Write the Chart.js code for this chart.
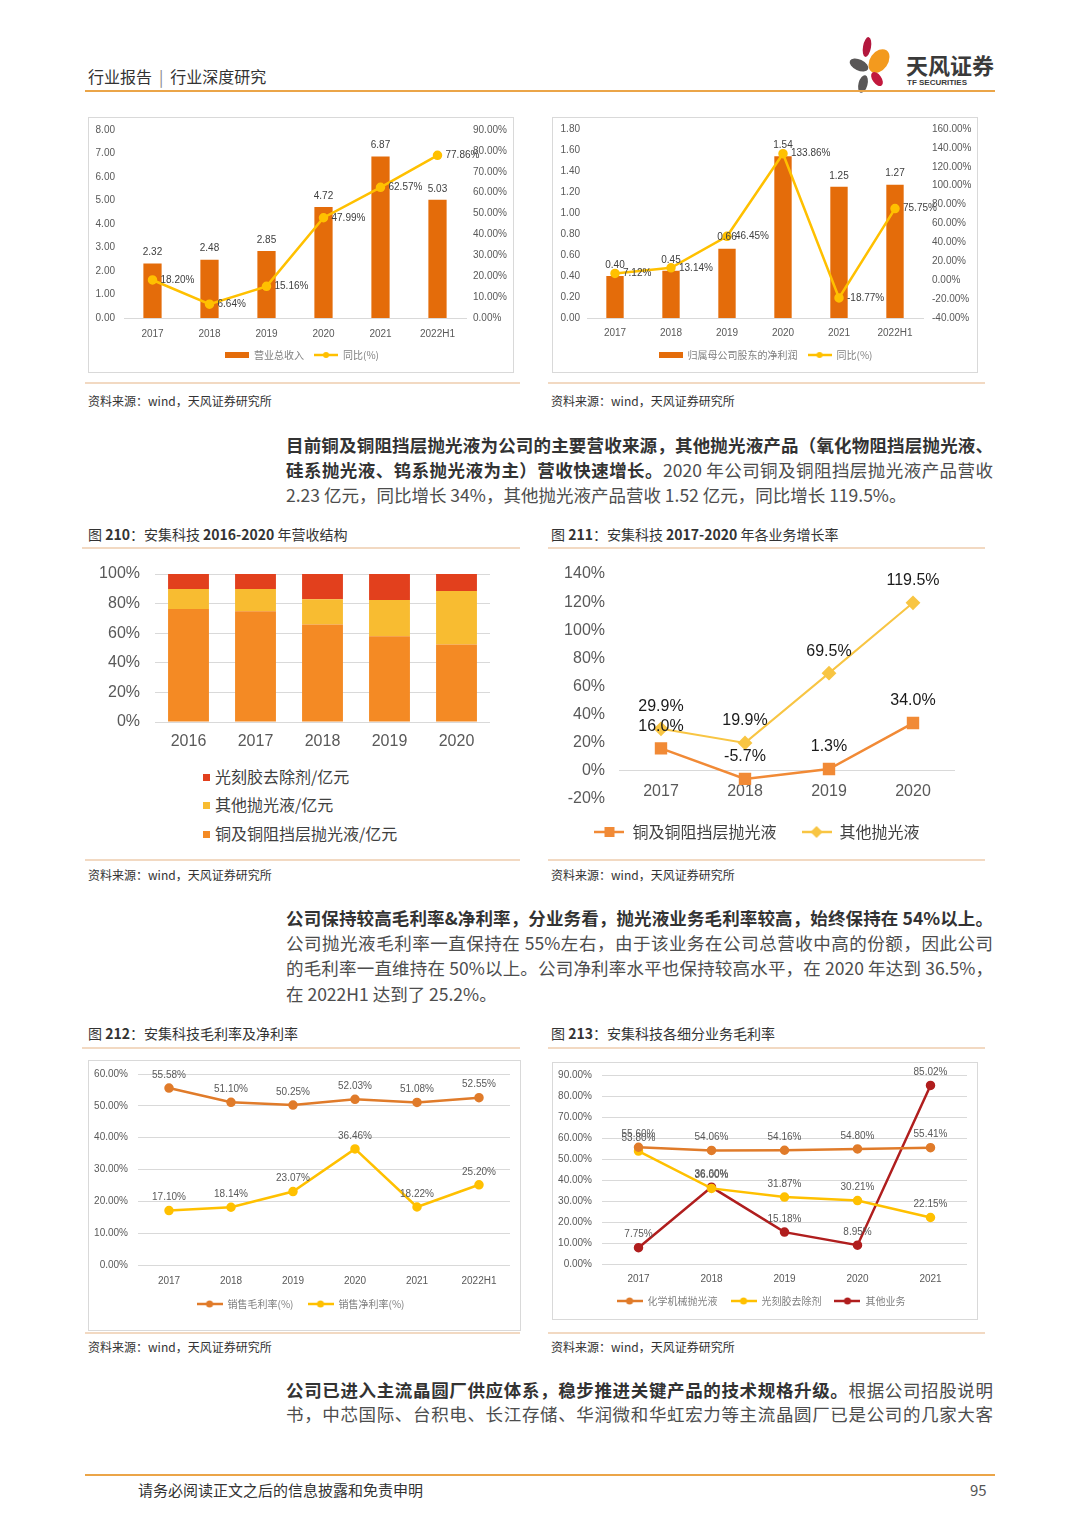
<!DOCTYPE html>
<html lang="zh-CN">
<head>
<meta charset="utf-8">
<title>安集科技 财务图表</title>
<script src="https://cdn.jsdelivr.net/npm/chart.js@4.4.0/dist/chart.umd.min.js"></script>
<style>
  body { margin: 0; background: #fff; }
  #page { position: relative; width: 1080px; height: 1527px; background: #fff; overflow: hidden;
          font-family: "Noto Sans CJK SC", sans-serif; color: #333; }
  .abs { position: absolute; white-space: nowrap; }
  .rule { position: absolute; height: 2px; background: #F2D9C2; }
  .src { position: absolute; font-size: 12px; line-height: 16px; color: #333; }
  .ftitle { position: absolute; font-size: 14px; line-height: 20px; color: #333; }
  .ftitle b { font-weight: 700; }
  .ln { position: absolute; left: 286px; width: 707px; font-size: 17.5px; line-height: 25px;
        color: #4d4d4d; white-space: nowrap; text-align: justify; text-align-last: justify; }
  .ln.last { text-align: left; text-align-last: left; }
  .ln b { color: #333; font-weight: 700; }
  .box { position: absolute; border: 1px solid #D9D9D9; box-sizing: border-box; }
  canvas { position: absolute; }
  .lg3 { position: absolute; left: 203px; font-size: 16px; line-height: 20px; color: #404040; }
  .lg3 i { display: inline-block; width: 7px; height: 7px; margin-right: 5px; vertical-align: 2px; }
</style>
</head>
<body>
<div id="page">

  <!-- header -->
  <div class="abs" style="left:88px; top:66px; font-size:16px; line-height:20px; color:#333;">行业报告<span style="margin:0 7px; color:#888;">|</span>行业深度研究</div>
  <svg class="abs" style="left:845px; top:34px;" width="62" height="62" viewBox="0 0 62 62">
    <ellipse cx="22" cy="13" rx="4" ry="10" fill="#B3173D" transform="rotate(10 22 13)"/>
    <ellipse cx="34" cy="27" rx="9" ry="13" fill="#F39A1E" transform="rotate(35 34 27)"/>
    <ellipse cx="14" cy="31" rx="5.5" ry="10" fill="#595757" transform="rotate(-65 14 31)"/>
    <ellipse cx="32" cy="45" rx="4.5" ry="8" fill="#C2183D" transform="rotate(-35 32 45)"/>
    <ellipse cx="18" cy="50" rx="4.5" ry="9" fill="#595757" transform="rotate(15 18 50)"/>
  </svg>
  <div class="abs" style="left:906px; top:50px; font-size:22px; line-height:28px; font-weight:700; color:#3a3a3a;">天风证券</div>
  <div class="abs" style="left:907px; top:78px; font-size:8px; line-height:10px; font-weight:700; color:#3a3a3a; font-family:'Liberation Sans',sans-serif;">TF SECURITIES</div>
  <div class="rule" style="left:85px; top:90px; width:910px; background:#EBA548;"></div>

  <!-- charts 1 and 2 -->
  <div class="box" style="left:88px; top:117px; width:426px; height:256px;"></div>
  <canvas id="c1" width="423" height="253" style="left:89px; top:118px;"></canvas>
  <div class="box" style="left:552px; top:117px; width:426px; height:256px;"></div>
  <canvas id="c2" width="423" height="253" style="left:553px; top:118px;"></canvas>
  <div class="rule" style="left:85px; top:382px; width:435px;"></div>
  <div class="rule" style="left:548px; top:382px; width:437px;"></div>
  <div class="src" style="left:88px; top:393px;">资料来源：wind，天风证券研究所</div>
  <div class="src" style="left:551px; top:393px;">资料来源：wind，天风证券研究所</div>

  <div class="ln" style="top:432px;"><b>目前铜及铜阻挡层抛光液为公司的主要营收来源，其他抛光液产品（氧化物阻挡层抛光液、</b></div>
  <div class="ln" style="top:457px;"><b>硅系抛光液、钨系抛光液为主）营收快速增长。</b>2020 年公司铜及铜阻挡层抛光液产品营收</div>
  <div class="ln last" style="top:482px;">2.23 亿元，同比增长 34%，其他抛光液产品营收 1.52 亿元，同比增长 119.5%。</div>

  <!-- charts 3 and 4 -->
  <div class="ftitle" style="left:88px; top:524px;">图 <b>210</b>：安集科技 <b>2016-2020</b> 年营收结构</div>
  <div class="ftitle" style="left:551px; top:524px;">图 <b>211</b>：安集科技 <b>2017-2020</b> 年各业务增长率</div>
  <div class="rule" style="left:82px; top:547px; width:438px;"></div>
  <div class="rule" style="left:548px; top:547px; width:437px;"></div>
  <canvas id="c3" width="432" height="200" style="left:88px; top:559px;"></canvas>
  <div id="lg3"></div>
  <canvas id="c4" width="435" height="290" style="left:550px; top:560px;"></canvas>
  <div class="rule" style="left:85px; top:859px; width:435px;"></div>
  <div class="rule" style="left:548px; top:859px; width:437px;"></div>
  <div class="src" style="left:88px; top:867px;">资料来源：wind，天风证券研究所</div>
  <div class="src" style="left:551px; top:867px;">资料来源：wind，天风证券研究所</div>

  <div class="ln" style="top:905px;"><b>公司保持较高毛利率&amp;净利率，分业务看，抛光液业务毛利率较高，始终保持在 54%以上。</b></div>
  <div class="ln" style="top:930px;">公司抛光液毛利率一直保持在 55%左右，由于该业务在公司总营收中高的份额，因此公司</div>
  <div class="ln" style="top:955px;">的毛利率一直维持在 50%以上。公司净利率水平也保持较高水平，在 2020 年达到 36.5%，</div>
  <div class="ln last" style="top:981px;">在 2022H1 达到了 25.2%。</div>

  <!-- charts 5 and 6 -->
  <div class="ftitle" style="left:88px; top:1023px;">图 <b>212</b>：安集科技毛利率及净利率</div>
  <div class="ftitle" style="left:551px; top:1023px;">图 <b>213</b>：安集科技各细分业务毛利率</div>
  <div class="rule" style="left:82px; top:1047px; width:438px;"></div>
  <div class="rule" style="left:548px; top:1047px; width:437px;"></div>
  <div class="box" style="left:88px; top:1060px; width:433px; height:271px;"></div>
  <canvas id="c5" width="430" height="268" style="left:89px; top:1061px;"></canvas>
  <div class="box" style="left:552px; top:1062px; width:426px; height:258px;"></div>
  <canvas id="c6" width="424" height="256" style="left:553px; top:1063px;"></canvas>
  <div class="rule" style="left:85px; top:1332px; width:435px;"></div>
  <div class="rule" style="left:548px; top:1332px; width:437px;"></div>
  <div class="src" style="left:88px; top:1339px;">资料来源：wind，天风证券研究所</div>
  <div class="src" style="left:551px; top:1339px;">资料来源：wind，天风证券研究所</div>

  <div class="ln" style="top:1377px;"><b>公司已进入主流晶圆厂供应体系，稳步推进关键产品的技术规格升级。</b>根据公司招股说明</div>
  <div class="ln" style="top:1401px;">书，中芯国际、台积电、长江存储、华润微和华虹宏力等主流晶圆厂已是公司的几家大客</div>

  <!-- footer -->
  <div class="rule" style="left:85px; top:1474px; width:910px; background:#EBA548;"></div>
  <div class="abs" style="left:138px; top:1480px; font-size:15px; line-height:20px; color:#333;">请务必阅读正文之后的信息披露和免责申明</div>
  <div class="abs" style="left:970px; top:1480px; font-size:15px; line-height:20px; color:#555;">95</div>
</div>

<script>
// ---- data ----
const years6 = ['2017', '2018', '2019', '2020', '2021', '2022H1'];
const revenue = [2.32, 2.48, 2.85, 4.72, 6.87, 5.03];
const revenueYoy = [18.20, 6.64, 15.16, 47.99, 62.57, 77.86];
const netProfit = [0.40, 0.45, 0.66, 1.54, 1.25, 1.27];
const netProfitYoy = [7.12, 13.14, 46.45, 133.86, -18.77, 75.75];

const structYears = ['2016', '2017', '2018', '2019', '2020'];
const copperShare = [76.4, 74.8, 65.8, 57.9, 52.3];
const otherShare = [13.5, 15.1, 17.1, 24.5, 36.2];
const resistShare = [10.1, 10.1, 17.1, 17.6, 11.5];

const growthYears = ['2017', '2018', '2019', '2020'];
const copperGrowth = [16.0, -5.7, 1.3, 34.0];
const otherGrowth = [29.9, 19.9, 69.5, 119.5];

const grossMargin = [55.58, 51.10, 50.25, 52.03, 51.08, 52.55];
const netMargin = [17.10, 18.14, 23.07, 36.46, 18.22, 25.20];

const segYears = ['2017', '2018', '2019', '2020', '2021'];
const cmpMargin = [55.60, 54.06, 54.16, 54.80, 55.41];
const resistMargin = [53.80, 36.00, 31.87, 30.21, 22.15];
const otherBizMargin = [7.75, 36.60, 15.18, 8.95, 85.02];

// ---- styles ----
const SANS = '"Liberation Sans", "Noto Sans CJK SC", sans-serif';
const CJK = '"Noto Sans CJK SC", sans-serif';
const ORANGE_BAR = '#E46C0A';
const YELLOW = '#FFC000';
const ORANGE_LINE = '#E07B2A';
const DARK_RED = '#B01E1E';
const S_COPPER = '#F48A24', S_OTHER = '#F8BC31', S_RESIST = '#E2401D';
const G_COPPER = '#F18A36', G_OTHER = '#F8C543';
const GRID = '#D9D9D9';

Chart.defaults.font.family = SANS;
Chart.defaults.animation = false;

// value labels drawn next to bars / points
const valueLabels = {
  id: 'valueLabels',
  afterDatasetsDraw(chart, args, opts) {
    const ctx = chart.ctx;
    chart.data.datasets.forEach((ds, i) => {
      if (!ds.labelPos) return;
      const meta = chart.getDatasetMeta(i);
      ctx.save();
      ctx.font = opts.font;
      ctx.fillStyle = opts.color;
      meta.data.forEach((el, j) => {
        const txt = ds.labelFmt(ds.data[j]);
        if (ds.labelPos === 'right') {
          ctx.textAlign = 'left';
          ctx.textBaseline = 'middle';
          ctx.fillText(txt, el.x + (ds.labelGap || 8), el.y);
        } else {
          ctx.textAlign = 'center';
          ctx.textBaseline = 'bottom';
          ctx.fillText(txt, el.x, el.y - (ds.labelGap || 6));
        }
      });
      ctx.restore();
    });
  }
};

// small legend swatches (line with marker, or bar block)
function makeSwatch(w, h, color, kind, size) {
  const c = document.createElement('canvas');
  c.width = w; c.height = h;
  const g = c.getContext('2d');
  g.fillStyle = color; g.strokeStyle = color;
  const cy = h / 2, cx = w / 2;
  if (kind === 'bar') {
    g.fillRect(0, cy - size / 2, w, size);
    return c;
  }
  g.lineWidth = 2.5;
  g.beginPath(); g.moveTo(0, cy); g.lineTo(w, cy); g.stroke();
  g.beginPath();
  if (kind === 'circle') g.arc(cx, cy, size, 0, Math.PI * 2);
  else if (kind === 'square') g.rect(cx - size, cy - size, size * 2, size * 2);
  else if (kind === 'diamond') { g.moveTo(cx, cy - size); g.lineTo(cx + size, cy); g.lineTo(cx, cy + size); g.lineTo(cx - size, cy); g.closePath(); }
  g.fill();
  return c;
}

function legendOpts(items, w, size, color, pad) {
  return {
    position: 'bottom',
    labels: {
      usePointStyle: true,
      pointStyleWidth: w,
      padding: pad,
      color: color,
      font: { size: size, family: CJK },
      generateLabels: () => items.map((it, i) => ({
        text: it.text, pointStyle: it.swatch, fillStyle: 'transparent',
        strokeStyle: 'transparent', lineWidth: 0, hidden: false, datasetIndex: i, fontColor: color
      }))
    }
  };
}

// fixed axis sizes; y axes drop their label overflow so layout.padding.top sets the plot top
const fixW = w => s => { s.width = w; s.paddingTop = 0; s.paddingBottom = 0; };
const fixH = h => s => { s.height = h; };

// ---- chart 1: revenue ----
new Chart(document.getElementById('c1'), {
  data: {
    labels: years6,
    datasets: [
      { type: 'bar', label: '营业总收入', data: revenue, backgroundColor: ORANGE_BAR, yAxisID: 'y', order: 1,
        barPercentage: 0.32, categoryPercentage: 1, labelPos: 'top', labelFmt: v => v.toFixed(2) },
      { type: 'line', label: '同比(%)', data: revenueYoy, borderColor: YELLOW, backgroundColor: YELLOW, borderWidth: 2.5,
        pointRadius: 3.5, yAxisID: 'y1', order: 0, labelPos: 'right', labelFmt: v => v.toFixed(2) + '%' }
    ]
  },
  options: {
    responsive: false,
    layout: { padding: { left: 5, right: 2, top: 12, bottom: 1 } },
    scales: {
      x: { grid: { display: false, drawTicks: false }, border: { color: GRID },
           ticks: { padding: 10, color: '#595959', font: { size: 10 } }, afterFit: fixH(22) },
      y: { position: 'left', min: 0, max: 8, grid: { display: false, drawTicks: false }, border: { display: false },
           ticks: { stepSize: 1, padding: 9, color: '#595959', font: { size: 10 }, callback: v => v.toFixed(2) }, afterFit: fixW(30) },
      y1: { position: 'right', min: 0, max: 90, grid: { display: false, drawTicks: false }, border: { display: false },
            ticks: { stepSize: 10, padding: 7, color: '#595959', font: { size: 10 }, callback: v => v.toFixed(2) + '%' }, afterFit: fixW(44) }
    },
    plugins: {
      legend: legendOpts([
        { text: '营业总收入', swatch: makeSwatch(24, 10, ORANGE_BAR, 'bar', 6) },
        { text: '同比(%)', swatch: makeSwatch(24, 10, YELLOW, 'circle', 3) }
      ], 24, 10, '#7F7F7F', 10),
      tooltip: { enabled: false },
      valueLabels: { font: '10px ' + SANS, color: '#404040' }
    }
  },
  plugins: [valueLabels]
});

// ---- chart 2: net profit ----
new Chart(document.getElementById('c2'), {
  data: {
    labels: years6,
    datasets: [
      { type: 'bar', label: '归属母公司股东的净利润', data: netProfit, backgroundColor: ORANGE_BAR, yAxisID: 'y', order: 1,
        barPercentage: 0.31, categoryPercentage: 1, labelPos: 'top', labelFmt: v => v.toFixed(2) },
      { type: 'line', label: '同比(%)', data: netProfitYoy, borderColor: YELLOW, backgroundColor: YELLOW, borderWidth: 2.5,
        pointRadius: 3.5, yAxisID: 'y1', order: 0, labelPos: 'right', labelFmt: v => v.toFixed(2) + '%' }
    ]
  },
  options: {
    responsive: false,
    layout: { padding: { left: 4, right: 2, top: 11, bottom: 1 } },
    scales: {
      x: { grid: { display: false, drawTicks: false }, border: { color: GRID },
           ticks: { padding: 9, color: '#595959', font: { size: 10 } }, afterFit: fixH(22) },
      y: { position: 'left', min: 0, max: 1.8, grid: { display: false, drawTicks: false }, border: { display: false },
           ticks: { stepSize: 0.2, padding: 7, color: '#595959', font: { size: 10 }, callback: v => v.toFixed(2) }, afterFit: fixW(30) },
      y1: { position: 'right', min: -40, max: 160, grid: { display: false, drawTicks: false }, border: { display: false },
            ticks: { stepSize: 20, padding: 9, color: '#595959', font: { size: 10 }, callback: v => v.toFixed(2) + '%' }, afterFit: fixW(51) }
    },
    plugins: {
      legend: legendOpts([
        { text: '归属母公司股东的净利润', swatch: makeSwatch(24, 10, ORANGE_BAR, 'bar', 6) },
        { text: '同比(%)', swatch: makeSwatch(24, 10, YELLOW, 'circle', 3) }
      ], 24, 10, '#7F7F7F', 10),
      tooltip: { enabled: false },
      valueLabels: { font: '10px ' + SANS, color: '#404040' }
    }
  },
  plugins: [valueLabels]
});

// ---- chart 3: revenue structure (100% stacked) ----
const structSeries = [
  { label: '铜及铜阻挡层抛光液/亿元', data: copperShare, color: S_COPPER },
  { label: '其他抛光液/亿元', data: otherShare, color: S_OTHER },
  { label: '光刻胶去除剂/亿元', data: resistShare, color: S_RESIST }
];
new Chart(document.getElementById('c3'), {
  type: 'bar',
  data: {
    labels: structYears,
    datasets: structSeries.map(s => ({ label: s.label, data: s.data, backgroundColor: s.color,
      barPercentage: 0.61, categoryPercentage: 1 }))
  },
  options: {
    responsive: false,
    layout: { padding: { left: 7, right: 30, top: 15, bottom: 0 } },
    scales: {
      x: { stacked: true, grid: { display: false, drawTicks: false }, border: { display: false },
           ticks: { padding: 10, color: '#595959', font: { size: 16 } }, afterFit: fixH(37) },
      y: { stacked: true, min: 0, max: 100, grid: { color: GRID, drawTicks: false }, border: { display: false },
           ticks: { stepSize: 20, padding: 15, color: '#595959', font: { size: 16 }, callback: v => v + '%' }, afterFit: fixW(60) }
    },
    plugins: { legend: { display: false }, tooltip: { enabled: false } }
  }
});
// legend for chart 3, listed top series first
const lg3 = document.getElementById('lg3');
const lg3Tops = [766, 794, 823];
structSeries.slice().reverse().forEach((s, i) => {
  const d = document.createElement('div');
  d.className = 'lg3';
  d.style.top = lg3Tops[i] + 'px';
  d.innerHTML = '<i style="background:' + s.color + '"></i>' + s.label;
  lg3.appendChild(d);
});

// ---- chart 4: growth by business ----
new Chart(document.getElementById('c4'), {
  type: 'line',
  data: {
    labels: growthYears,
    datasets: [
      { label: '铜及铜阻挡层抛光液', data: copperGrowth, borderColor: G_COPPER, backgroundColor: G_COPPER, borderWidth: 2.5,
        pointStyle: 'rect', pointRadius: 7, labelPos: 'top', labelGap: 14, labelFmt: v => v.toFixed(1) + '%' },
      { label: '其他抛光液', data: otherGrowth, borderColor: G_OTHER, backgroundColor: G_OTHER, borderWidth: 2,
        pointStyle: 'rectRot', pointRadius: 6, labelPos: 'top', labelGap: 14, labelFmt: v => v.toFixed(1) + '%' }
    ]
  },
  options: {
    responsive: false,
    layout: { padding: { left: 9, right: 30, top: 14, bottom: 0 } },
    scales: {
      x: { position: { y: 0 }, offset: true, grid: { display: false, drawTicks: false }, border: { display: false },
           ticks: { padding: 11, color: '#595959', font: { size: 16 } } },
      y: { min: -20, max: 140, border: { display: false },
           grid: { drawTicks: false, color: c => c.tick && c.tick.value === 0 ? GRID : 'rgba(0,0,0,0)' },
           ticks: { stepSize: 20, padding: 14, color: '#595959', font: { size: 16 }, callback: v => v + '%' }, afterFit: fixW(60) }
    },
    plugins: {
      legend: legendOpts([
        { text: '铜及铜阻挡层抛光液', swatch: makeSwatch(30, 14, G_COPPER, 'square', 5) },
        { text: '其他抛光液', swatch: makeSwatch(30, 14, G_OTHER, 'diamond', 6) }
      ], 30, 16, '#404040', 25),
      tooltip: { enabled: false },
      valueLabels: { font: '16px ' + SANS, color: '#1A1A1A' }
    }
  },
  plugins: [valueLabels]
});

// ---- chart 5: gross / net margin ----
new Chart(document.getElementById('c5'), {
  type: 'line',
  data: {
    labels: years6,
    datasets: [
      { label: '销售毛利率(%)', data: grossMargin, borderColor: ORANGE_LINE, backgroundColor: ORANGE_LINE, borderWidth: 2.5,
        pointRadius: 3.5, labelPos: 'top', labelGap: 8, labelFmt: v => v.toFixed(2) + '%' },
      { label: '销售净利率(%)', data: netMargin, borderColor: YELLOW, backgroundColor: YELLOW, borderWidth: 2.5,
        pointRadius: 3.5, labelPos: 'top', labelGap: 8, labelFmt: v => v.toFixed(2) + '%' }
    ]
  },
  options: {
    responsive: false,
    layout: { padding: { left: 2, right: 9, top: 13, bottom: 10 } },
    scales: {
      x: { offset: true, grid: { display: false, drawTicks: false }, border: { display: false },
           ticks: { padding: 10, color: '#595959', font: { size: 10 } }, afterFit: fixH(20) },
      y: { min: 0, max: 60, grid: { color: GRID, drawTicks: false }, border: { display: false },
           ticks: { stepSize: 10, padding: 10, color: '#595959', font: { size: 10 }, callback: v => v.toFixed(2) + '%' }, afterFit: fixW(47) }
    },
    plugins: {
      legend: legendOpts([
        { text: '销售毛利率(%)', swatch: makeSwatch(26, 10, ORANGE_LINE, 'circle', 3.5) },
        { text: '销售净利率(%)', swatch: makeSwatch(26, 10, YELLOW, 'circle', 3.5) }
      ], 26, 10, '#7F7F7F', 14),
      tooltip: { enabled: false },
      valueLabels: { font: '10px ' + SANS, color: '#595959' }
    }
  },
  plugins: [valueLabels]
});

// ---- chart 6: segment gross margin ----
new Chart(document.getElementById('c6'), {
  type: 'line',
  data: {
    labels: segYears,
    datasets: [
      { label: '化学机械抛光液', data: cmpMargin, borderColor: ORANGE_LINE, backgroundColor: ORANGE_LINE, borderWidth: 2.5,
        pointRadius: 3.5, labelPos: 'top', labelGap: 8, labelFmt: v => v.toFixed(2) + '%' },
      { label: '光刻胶去除剂', data: resistMargin, borderColor: YELLOW, backgroundColor: YELLOW, borderWidth: 2.5,
        pointRadius: 3.5, labelPos: 'top', labelGap: 8, labelFmt: v => v.toFixed(2) + '%' },
      { label: '其他业务', data: otherBizMargin, borderColor: DARK_RED, backgroundColor: DARK_RED, borderWidth: 2.5,
        pointRadius: 3.5, labelPos: 'top', labelGap: 8, labelFmt: v => v.toFixed(2) + '%' }
    ]
  },
  options: {
    responsive: false,
    layout: { padding: { left: 2, right: 10, top: 12, bottom: 3 } },
    scales: {
      x: { offset: true, grid: { display: false, drawTicks: false }, border: { display: false },
           ticks: { padding: 9, color: '#595959', font: { size: 10 } }, afterFit: fixH(19) },
      y: { min: 0, max: 90, grid: { color: GRID, drawTicks: false }, border: { display: false },
           ticks: { stepSize: 10, padding: 10, color: '#595959', font: { size: 10 }, callback: v => v.toFixed(2) + '%' }, afterFit: fixW(47) }
    },
    plugins: {
      legend: legendOpts([
        { text: '化学机械抛光液', swatch: makeSwatch(26, 10, ORANGE_LINE, 'circle', 3.5) },
        { text: '光刻胶去除剂', swatch: makeSwatch(26, 10, YELLOW, 'circle', 3.5) },
        { text: '其他业务', swatch: makeSwatch(26, 10, DARK_RED, 'circle', 3.5) }
      ], 26, 10, '#7F7F7F', 13),
      tooltip: { enabled: false },
      valueLabels: { font: '10px ' + SANS, color: '#595959' }
    }
  },
  plugins: [valueLabels]
});
</script>
</body>
</html>
